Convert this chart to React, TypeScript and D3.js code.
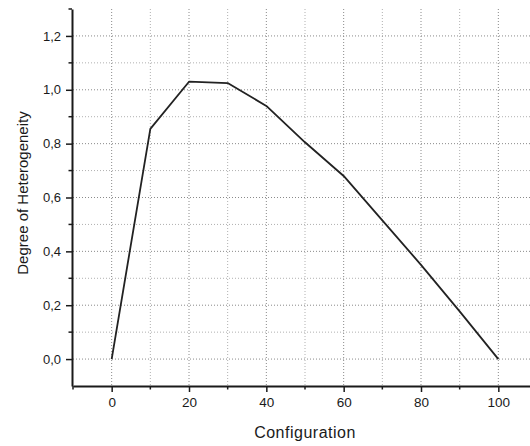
import React, { useEffect, useRef } from "react";
import * as d3 from "d3";

const configuration = [0, 10, 20, 30, 40, 50, 60, 70, 80, 90, 100];
const heterogeneity = [0, 0.855, 1.03, 1.025, 0.94, 0.805, 0.68, 0.515, 0.35, 0.177, 0];
const xMajorTicks = [0, 20, 40, 60, 80, 100];
const xMinorTicks = [-10, 10, 30, 50, 70, 90, 110];
const yMajorTicks = [0, 0.2, 0.4, 0.6, 0.8, 1.0, 1.2];
const yMinorTicks = [0.1, 0.3, 0.5, 0.7, 0.9, 1.1, 1.3];
const xTitle = "Configuration";
const yTitle = "Degree of Heterogeneity";

const W = 530;
const H = 446;
const left = 73;
const right = 537;
const top = 9;
const bottom = 386;

export default function App() {
  const ref = useRef<SVGSVGElement>(null);
  useEffect(() => {
    const svg = d3.select(ref.current);
    svg.selectAll("*").remove();
    const x = d3.scaleLinear().domain([-10, 110]).range([left, right]);
    const y = d3.scaleLinear().domain([-0.1, 1.3]).range([bottom, top]);
    const fmt = (v: number) => d3.format(".1f")(v).replace(".", ",");
    const font = "'Liberation Sans', Arial, sans-serif";

    const grid = svg.append("g");
    const vGrid = [...xMajorTicks, ...xMinorTicks].filter((v) => v > -10 && v < 110);
    grid
      .selectAll("line.v")
      .data(vGrid)
      .join("line")
      .attr("x1", (d) => x(d))
      .attr("x2", (d) => x(d))
      .attr("y1", top)
      .attr("y2", bottom)
      .attr("stroke", (d) => (xMajorTicks.includes(d) ? "#8a8a8a" : "#b0b0b0"))
      .attr("stroke-width", 1)
      .attr("stroke-dasharray", "1,2");
    const hGrid = [...yMajorTicks, ...yMinorTicks].filter((v) => v < 1.25);
    grid
      .selectAll("line.h")
      .data(hGrid)
      .join("line")
      .attr("x1", left)
      .attr("x2", W)
      .attr("y1", (d) => y(d))
      .attr("y2", (d) => y(d))
      .attr("stroke", (d) => (yMajorTicks.includes(d) ? "#8a8a8a" : "#b0b0b0"))
      .attr("stroke-width", 1)
      .attr("stroke-dasharray", "1,2");

    // axes
    const xAxis = d3
      .axisBottom(x)
      .tickValues(xMajorTicks)
      .tickSize(6)
      .tickSizeOuter(0)
      .tickPadding(5)
      .tickFormat((d) => String(d));
    const gx = svg.append("g").attr("transform", `translate(0,${bottom})`).call(xAxis);
    gx.select(".domain").attr("stroke", "#1a1a1a").attr("stroke-width", 2);
    gx.selectAll(".tick line").attr("stroke", "#1a1a1a").attr("stroke-width", 1.5);
    gx.selectAll("text")
      .attr("font-family", font)
      .attr("font-size", 13.5)
      .attr("fill", "#1a1a1a")
      .attr("dy", "0.71em");
    svg
      .append("g")
      .selectAll("line")
      .data(xMinorTicks)
      .join("line")
      .attr("x1", (d) => x(d))
      .attr("x2", (d) => x(d))
      .attr("y1", bottom)
      .attr("y2", bottom + 3.5)
      .attr("stroke", "#1a1a1a")
      .attr("stroke-width", 1.5);

    const yAxis = d3
      .axisLeft(y)
      .tickValues(yMajorTicks)
      .tickSize(6)
      .tickSizeOuter(0)
      .tickPadding(5)
      .tickFormat((d) => fmt(d as number));
    const gy = svg.append("g").attr("transform", `translate(${left - 1},0)`).call(yAxis);
    gy.select(".domain").attr("stroke", "#1a1a1a").attr("stroke-width", 2);
    gy.selectAll(".tick line").attr("stroke", "#1a1a1a").attr("stroke-width", 1.5);
    gy.selectAll("text").attr("font-family", font).attr("font-size", 13).attr("fill", "#1a1a1a");
    svg
      .append("g")
      .selectAll("line")
      .data(yMinorTicks)
      .join("line")
      .attr("x1", left - 1)
      .attr("x2", left - 4.5)
      .attr("y1", (d) => y(d))
      .attr("y2", (d) => y(d))
      .attr("stroke", "#1a1a1a")
      .attr("stroke-width", 1.5);

    // line
    const line = d3
      .line<number>()
      .x((_, i) => x(configuration[i]))
      .y((d) => y(d));
    svg
      .append("path")
      .datum(heterogeneity)
      .attr("d", line)
      .attr("fill", "none")
      .attr("stroke", "#222")
      .attr("stroke-width", 1.8)
      .attr("stroke-linejoin", "round");

    // titles
    svg
      .append("text")
      .attr("x", 305)
      .attr("y", 438)
      .attr("text-anchor", "middle")
      .attr("font-family", font)
      .attr("font-size", 16)
      .attr("letter-spacing", 0.5)
      .attr("fill", "#1a1a1a")
      .text(xTitle);
    svg
      .append("text")
      .attr("transform", `translate(27.5,193) rotate(-90)`)
      .attr("text-anchor", "middle")
      .attr("font-family", font)
      .attr("font-size", 15)
      .attr("fill", "#1a1a1a")
      .text(yTitle);
  }, []);
  return (
    <svg
      ref={ref}
      width={W}
      height={H}
      style={{ position: "absolute", left: 0, top: 0, background: "#fff" }}
    />
  );
}
